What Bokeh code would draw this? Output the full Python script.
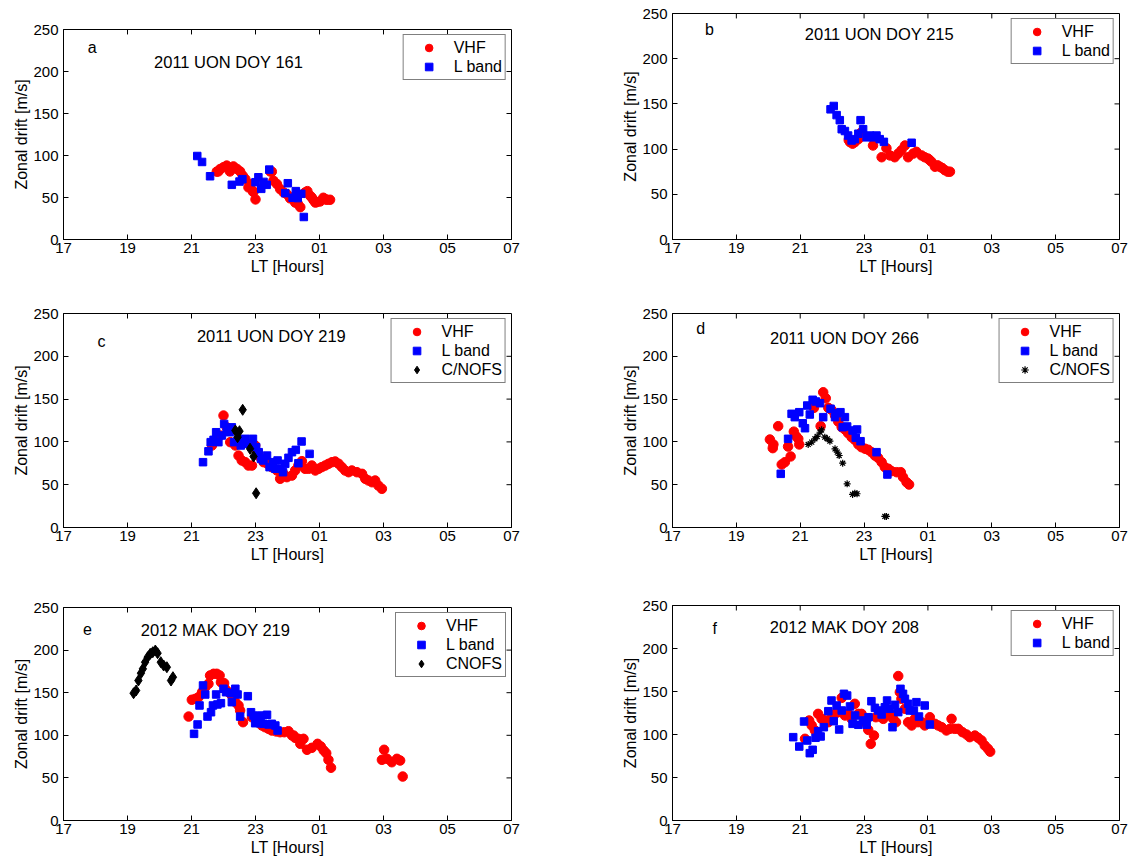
from bokeh.plotting import figure
from bokeh.models import Range1d, FixedTicker, Label
from bokeh.layouts import column, row
from bokeh.embed import file_html
from bokeh.resources import INLINE

FONT = "Liberation Sans"

x_ticks = [17, 19, 21, 23, 25, 27, 29, 31]
x_tick_labels = ["17", "19", "21", "23", "01", "03", "05", "07"]
y_ticks = [0, 50, 100, 150, 200, 250]

panel_titles = ["2011 UON DOY 161", "2011 UON DOY 215", "2011 UON DOY 219",
                "2011 UON DOY 266", "2012 MAK DOY 219", "2012 MAK DOY 208"]
panel_letters = ["a", "b", "c", "d", "e", "f"]

# ---- panel a ----
a_vhf_lt = [21.79,21.84,21.9,22.0,22.1,22.2,22.31,22.42,22.52,22.6,22.68,22.78,22.85,22.92,22.94,23.0,23.46,23.51,23.56,23.67,23.77,23.88,23.98,24.08,24.14,24.24,24.32,24.4,24.55,24.62,24.71,24.76,24.81,24.87,24.92,25.02,25.12,25.18,25.23,25.33]
a_vhf_v = [80.8,81,84,86,88,81,87,84,81,76,72,62,66,57,57,47.7,81,80.8,70,66,60,56,54,49,50,44,42.6,38.5,56,57.6,52,50,47,44,44.6,45.3,49.7,48,47.3,47.3]
a_lband_lt = [21.18,21.33,21.58,22.26,22.5,22.59,23.0,23.09,23.18,23.25,23.35,23.43,23.93,24.01,24.16,24.26,24.32,24.43,24.51]
a_lband_v = [99.4,92.3,75.3,65.1,69,71.8,68.2,74.1,60.3,68.6,65.1,83.2,55.2,67,49.7,57.6,49.3,54.4,26.8]

# ---- panel b ----
b_vhf_lt = [22.52,22.56,22.64,22.71,22.82,22.9,23.28,23.55,23.7,23.81,23.96,24.07,24.17,24.28,24.38,24.54,24.64,24.8,24.9,25.0,25.05,25.11,25.22,25.3,25.37,25.45,25.53,25.62,25.69]
b_vhf_v = [110,107.7,106,107.7,111,118,104,91,101,93,91,95,98.6,104,91,95,97,93,91,89.5,88,86,80.5,82,80.5,79,76.7,75,75]
b_lband_lt = [21.95,22.05,22.14,22.24,22.3,22.4,22.5,22.61,22.71,22.82,22.89,22.97,23.08,23.18,23.28,23.39,23.49,23.62,24.49]
b_lband_v = [144,147.7,137.6,132,122,120,115,109.5,111,117,132,122,113,115,113,115,111,108,107]

# ---- panel c ----
c_vhf_lt = [21.64,21.9,22.0,22.1,22.21,22.37,22.47,22.57,22.68,22.78,22.89,22.99,23.06,23.15,23.25,23.38,23.51,23.67,23.77,23.88,23.98,24.14,24.24,24.34,24.45,24.55,24.66,24.76,24.87,24.97,25.07,25.18,25.28,25.39,25.49,25.6,25.7,25.8,25.91,26.01,26.17,26.33,26.43,26.53,26.64,26.74,26.84,26.95]
c_vhf_v = [95.8,107.5,130.8,117,99.7,95.8,84,78.3,76.3,72.4,72.4,95.8,88,82,76.3,74.4,70.5,66.6,56.9,62.7,58.8,60.7,66.6,72.4,77.5,68.6,68.6,72.4,66.6,68.6,70.5,72.4,74.4,76.3,77.1,74.4,70.5,66.6,64.6,66.6,64.6,62.7,56.9,54.9,52.9,54.9,49,45.2]
c_lband_lt = [21.36,21.53,21.6,21.69,21.77,21.84,21.95,22.02,22.1,22.19,22.26,22.33,22.44,22.54,22.68,22.78,22.92,23.02,23.1,23.17,23.25,23.36,23.44,23.54,23.62,23.69,23.77,23.86,23.93,24.03,24.14,24.26,24.34,24.44,24.69]
c_lband_v = [76.3,89,99.7,102.4,111.3,99.7,107.5,121,113,111.3,117,99.7,101.6,95.8,103.6,97.8,103.6,93.8,88,80.2,78.3,84,70.5,76.3,68.6,78.3,68.6,64.6,74.4,81.4,88,90.7,75.1,100.5,86]
c_cnofs_lt = [22.37,22.44,22.44,22.5,22.6,22.83,22.94,23.02]
c_cnofs_v = [113.3,110.2,105.5,112.5,137.5,92,83,40]

# ---- panel d ----
d_vhf_lt = [20.05,20.14,20.16,20.31,20.42,20.52,20.62,20.7,20.8,20.87,20.94,20.97,21.43,21.64,21.72,21.8,21.88,21.98,22.09,22.19,22.3,22.4,22.5,22.61,22.71,22.82,22.92,23.03,23.13,23.23,23.34,23.44,23.55,23.65,23.76,23.86,24.02,24.15,24.22,24.33,24.41]
d_vhf_v = [102.8,92.7,97,118.4,73.6,76.3,94.6,83,112,106.7,103.6,97,139.8,118.4,158,151,139.8,137.5,130.8,123.8,117.2,114.5,110.2,105.5,102.4,97,93.8,92,90.8,88,84,81.4,76.3,70.5,68.6,65.8,64.6,64.6,58.8,52.9,50.2]
d_lband_lt = [20.39,20.62,20.73,20.83,20.97,21.08,21.15,21.22,21.3,21.39,21.49,21.62,21.72,21.95,22.09,22.16,22.26,22.33,22.4,22.47,22.64,22.78,22.74,22.89,23.39,23.73]
d_lband_v = [62.7,103.6,132.8,128.9,134.7,121.8,116,142.5,132,149.2,147.2,145.2,128.9,138.7,128.9,133.5,134.7,117.2,128.9,118,113.3,114.5,104.8,100.8,88,61.9]
d_cnofs_lt = [21.25,21.36,21.46,21.53,21.62,21.67,21.77,21.85,21.93,22.09,22.16,22.22,22.33,22.47,22.64,22.71,22.78,23.65,23.7]
d_cnofs_v = [97,99.7,103.6,106.3,111.3,114.1,105.5,103.6,100.8,91.9,88,84.1,75.1,51,38.6,40,39.4,12.9,12.9]

# ---- panel e ----
e_vhf_lt = [20.91,21.01,21.12,21.22,21.33,21.43,21.53,21.58,21.69,21.79,21.88,21.92,22.02,22.05,22.16,22.26,22.37,22.47,22.52,22.61,22.89,22.99,23.09,23.2,23.3,23.41,23.51,23.65,23.77,23.9,24.03,24.14,24.19,24.24,24.34,24.4,24.5,24.61,24.76,24.94,25.04,25.13,25.21,25.28,25.36,26.95,27.02,27.11,27.26,27.42,27.52,27.6]
e_vhf_v = [122,141.7,142.8,144.7,150.6,156.5,160.4,170.2,172.2,172.2,170.2,162.3,161.2,154.6,150.6,146.7,138.9,135,129.1,115.4,121.2,119.4,115.4,111.5,109.5,107.6,105.6,104.5,103.6,103.6,104.8,99.8,99.8,97,95.9,90,95.9,83,85.3,90,86.9,82.2,79,71.2,61.9,71.2,83,72.4,68.4,72.4,70.4,51.6]
e_lband_lt = [21.08,21.19,21.25,21.36,21.43,21.5,21.61,21.67,21.77,21.81,21.92,22.0,22.08,22.23,22.26,22.37,22.44,22.52,22.76,22.86,22.94,22.99,23.13,23.18,23.25,23.36,23.41,23.51,23.62,23.69]
e_lband_v = [101.7,112.7,135,158.5,147.9,122,127.1,135,147.9,136.2,137.7,154.6,150.6,149.4,138.9,154.6,147.9,122,145.9,127.1,123.2,114.2,114.2,123.2,113.5,124.1,112.7,113.5,111.5,105.6]
e_cnofs_lt = [19.19,19.27,19.34,19.42,19.48,19.55,19.63,19.71,19.79,19.87,19.94,20.04,20.13,20.23,20.36,20.42]
e_cnofs_v = [149.4,152.6,164.3,172.9,178,185.8,191.7,195.6,197.5,199.5,196.4,185.8,181.9,179.9,164.3,168.2]

# ---- panel f ----
f_vhf_lt = [21.15,21.28,21.36,21.46,21.56,21.67,21.77,21.88,21.98,22.09,22.19,22.3,22.4,22.5,22.61,22.71,22.82,22.92,23.03,23.13,23.21,23.31,23.37,23.5,23.6,23.7,23.81,23.91,24.0,24.07,24.12,24.17,24.28,24.38,24.49,24.59,24.69,24.8,24.9,25.06,25.22,25.32,25.43,25.58,25.69,25.74,25.84,25.95,26.08,26.21,26.31,26.47,26.57,26.68,26.78,26.88,26.95]
f_vhf_v = [95,116.3,110.5,104.7,124,118.2,116.3,114.3,120.1,124,126,142.6,122.1,124,118.2,135.7,124,124,114.3,105.4,89.1,98.8,120.1,121,118.2,122.1,124,118.2,114.3,168,149.2,141.5,129.9,114.3,110.5,118.2,114.3,114.3,110.5,120.1,112.4,110.5,108.5,104.7,106.6,118.2,106.6,106.6,102.7,100,96.9,98.8,96.2,93,87.2,83.4,80]
f_lband_lt = [20.78,20.97,21.12,21.22,21.3,21.39,21.48,21.56,21.64,21.74,21.88,21.98,22.05,22.14,22.22,22.3,22.37,22.47,22.56,22.64,22.72,22.82,22.97,23.08,23.14,23.23,23.34,23.44,23.55,23.65,23.72,23.81,23.89,23.97,24.07,24.14,24.22,24.28,24.38,24.43,24.56,24.64,24.72,24.9,25.06]
f_lband_v = [96.9,86,115.1,93,78.3,82.2,96.2,103.9,97.7,108.5,127.1,139.5,115.5,133.7,105.8,127.9,147.3,145.3,132.6,112.4,122.1,111.3,116.3,111.3,120.1,138.7,131,127.9,123.3,131.7,139.5,129.9,108.5,134.5,126,153.1,147.3,141.5,135.7,127.9,127.9,137.6,120.9,133.7,111.6]

X0, X1 = 17, 31
Y0, Y1 = 0, 250
TICK_PX = 5


def style_axis(ax, ticks, labels=None):
    ax.ticker = FixedTicker(ticks=ticks)
    if labels is not None:
        ax.major_label_overrides = {t: l for t, l in zip(ticks, labels)}
    ax.major_tick_in = TICK_PX
    ax.major_tick_out = 0
    ax.minor_tick_line_color = None
    ax.major_tick_line_color = "black"
    ax.axis_line_color = "black"
    ax.major_label_text_color = "black"
    ax.major_label_text_font = FONT
    ax.major_label_text_font_size = "15px"
    ax.axis_label_text_font = FONT
    ax.axis_label_text_font_size = "16px"
    ax.axis_label_text_font_style = "normal"
    ax.axis_label_text_color = "black"


def make_panel(w, h, bl, br, bt, bb, series, title, title_xy, letter, letter_xy):
    p = figure(width=w, height=h, output_backend="svg", toolbar_location=None,
               x_range=Range1d(X0, X1), y_range=Range1d(Y0, Y1),
               min_border_left=bl, min_border_right=br,
               min_border_top=bt, min_border_bottom=bb)
    p.grid.visible = False
    p.outline_line_color = "black"
    p.outline_line_alpha = 1
    p.background_fill_color = "white"
    p.border_fill_color = "white"
    p.xaxis.axis_label = "LT [Hours]"
    p.yaxis.axis_label = "Zonal drift [m/s]"
    style_axis(p.xaxis[0], x_ticks, x_tick_labels)
    style_axis(p.yaxis[0], y_ticks)
    p.xaxis.major_label_standoff = 3
    p.xaxis.axis_label_standoff = 2
    p.yaxis.major_label_standoff = 5
    p.yaxis.axis_label_standoff = 0

    # inward tick marks on the top and right edges of the box (MATLAB "box on")
    fw = w - bl - br
    fh = h - bt - bb
    dy = TICK_PX * (Y1 - Y0) / fh
    dx = TICK_PX * (X1 - X0) / fw
    xt = [t for t in x_ticks if X0 < t < X1]
    yt = [t for t in y_ticks if Y0 < t < Y1]
    p.segment(x0=xt, y0=[Y1] * len(xt), x1=xt, y1=[Y1 - dy] * len(xt),
              line_color="black", line_width=1)
    p.segment(x0=[X1] * len(yt), y0=yt, x1=[X1 - dx] * len(yt), y1=yt,
              line_color="black", line_width=1)

    for (xs, ys, marker, size, color, name) in series:
        if marker == "asterisk":
            p.scatter(xs, ys, marker=marker, size=size, line_color=color,
                      line_width=1.2, legend_label=name)
        else:
            p.scatter(xs, ys, marker=marker, size=size, fill_color=color,
                      line_color=color, legend_label=name)

    p.add_layout(Label(x=title_xy[0], y=title_xy[1], text=title, text_align="center",
                       text_baseline="middle", text_font=FONT,
                       text_font_size="16.5px", text_color="black"))
    p.add_layout(Label(x=letter_xy[0], y=letter_xy[1], text=letter, text_align="center",
                       text_baseline="middle", text_font=FONT,
                       text_font_size="16px", text_color="black"))

    lg = p.legend[0]
    lg.location = "top_right"
    lg.margin = 5
    lg.padding = 3
    lg.spacing = 0
    lg.label_height = 19
    lg.glyph_height = 19
    lg.glyph_width = 44
    lg.label_standoff = 3
    lg.label_text_font = FONT
    lg.label_text_font_size = "16px"
    lg.label_text_color = "black"
    lg.border_line_color = "black"
    lg.border_line_width = 1
    lg.background_fill_alpha = 1
    return p


RED, BLUE, BLACK = "#ff0000", "#0000ff", "#000000"

# left column: frame x 63..511 ; right column: frame x 672..1119
pa = make_panel(560, 277, 63, 49, 29, 36,
                [(a_vhf_lt, a_vhf_v, "circle", 9.5, RED, "VHF"),
                 (a_lband_lt, a_lband_v, "square", 7.5, BLUE, "L band")],
                panel_titles[0], (22.16, 211), panel_letters[0], (17.9, 229))
pc = make_panel(560, 288, 63, 49, 36, 38,
                [(c_vhf_lt, c_vhf_v, "circle", 9.5, RED, "VHF"),
                 (c_lband_lt, c_lband_v, "square", 7.5, BLUE, "L band"),
                 (c_cnofs_lt, c_cnofs_v, "diamond", 11, BLACK, "C/NOFS")],
                panel_titles[2], (23.5, 224), panel_letters[2], (18.19, 217))
pe = make_panel(560, 295, 63, 49, 42, 40,
                [(e_vhf_lt, e_vhf_v, "circle", 9.5, RED, "VHF"),
                 (e_lband_lt, e_lband_v, "square", 7.5, BLUE, "L band"),
                 (e_cnofs_lt, e_cnofs_v, "diamond", 11, BLACK, "CNOFS")],
                panel_titles[4], (21.75, 224), panel_letters[4], (17.75, 225))

pb = make_panel(570, 277, 112, 11, 13, 35,
                [(b_vhf_lt, b_vhf_v, "circle", 9.5, RED, "VHF"),
                 (b_lband_lt, b_lband_v, "square", 7.5, BLUE, "L band")],
                panel_titles[1], (23.48, 227), panel_letters[1], (18.16, 232))
pd = make_panel(570, 288, 112, 11, 36, 38,
                [(d_vhf_lt, d_vhf_v, "circle", 9.5, RED, "VHF"),
                 (d_lband_lt, d_lband_v, "square", 7.5, BLUE, "L band"),
                 (d_cnofs_lt, d_cnofs_v, "asterisk", 7, BLACK, "C/NOFS")],
                panel_titles[3], (22.39, 221), panel_letters[3], (17.88, 232))
pf = make_panel(570, 295, 112, 11, 40, 40,
                [(f_vhf_lt, f_vhf_v, "circle", 9.5, RED, "VHF"),
                 (f_lband_lt, f_lband_v, "square", 7.5, BLUE, "L band")],
                panel_titles[5], (22.39, 225), panel_letters[5], (18.32, 223))

layout = row(column(pa, pc, pe), column(pb, pd, pf))

open("out.html", "w").write(file_html(layout, INLINE))
